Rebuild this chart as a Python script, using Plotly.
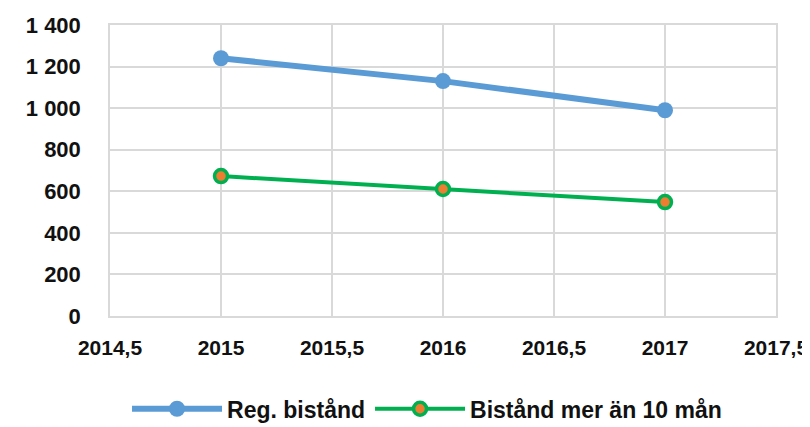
import plotly.graph_objects as go

years = [2015, 2016, 2017]
reg_bistand = [1240, 1130, 990]
bistand_10man = [673, 611, 548]

x_tickvals = [2014.5, 2015, 2015.5, 2016, 2016.5, 2017, 2017.5]
x_ticktext = ["2014,5", "2015", "2015,5", "2016", "2016,5", "2017", "2017,5"]

BLUE = "#5b9bd5"
GREEN = "#00b050"
ORANGE = "#ed7d31"
GRID = "#d9d9d9"
FAMILY = "Liberation Sans, Arial, sans-serif"


def bold(size):
    return dict(family=FAMILY, size=size, color="#111111", weight="bold")


fig = go.Figure()

fig.add_trace(go.Scatter(
    x=years, y=reg_bistand, name="Reg. bistånd",
    mode="lines+markers",
    line=dict(color=BLUE, width=6),
    marker=dict(color=BLUE, size=16),
))
fig.add_trace(go.Scatter(
    x=years, y=bistand_10man, name="Bistånd mer än 10 mån",
    mode="lines+markers",
    line=dict(color=GREEN, width=4),
    marker=dict(color=ORANGE, size=13, line=dict(color=GREEN, width=3.5)),
))

# page body adds ~8px offset, so figure is a bit smaller than the window
fig.update_layout(
    width=802, height=419,
    paper_bgcolor="white", plot_bgcolor="white",
    font=bold(22),
    separators=", ",
    margin=dict(l=102, r=34, t=17, b=111, autoexpand=False),
    showlegend=True,
    legend=dict(
        orientation="h", x=0.476, xanchor="center", y=-0.245, yanchor="top",
        font=bold(23), itemwidth=90, tracegroupgap=0,
    ),
)
fig.update_xaxes(
    range=[2014.5, 2017.5], tickvals=x_tickvals, ticktext=x_ticktext,
    tickfont=bold(21),
    showgrid=True, gridcolor=GRID, gridwidth=1.5,
    showline=True, linecolor=GRID, linewidth=1.5, mirror=True,
    zeroline=False, ticks="", ticklabelstandoff=12, automargin=False,
)
fig.update_yaxes(
    range=[0, 1400], dtick=200,
    separatethousands=True, tickformat=",d",
    tickfont=bold(22),
    showgrid=True, gridcolor=GRID, gridwidth=1.5,
    showline=True, linecolor=GRID, linewidth=1.5, mirror=True,
    zeroline=False, ticks="", ticklabelstandoff=23, automargin=False,
)

fig.write_html("out.html")
